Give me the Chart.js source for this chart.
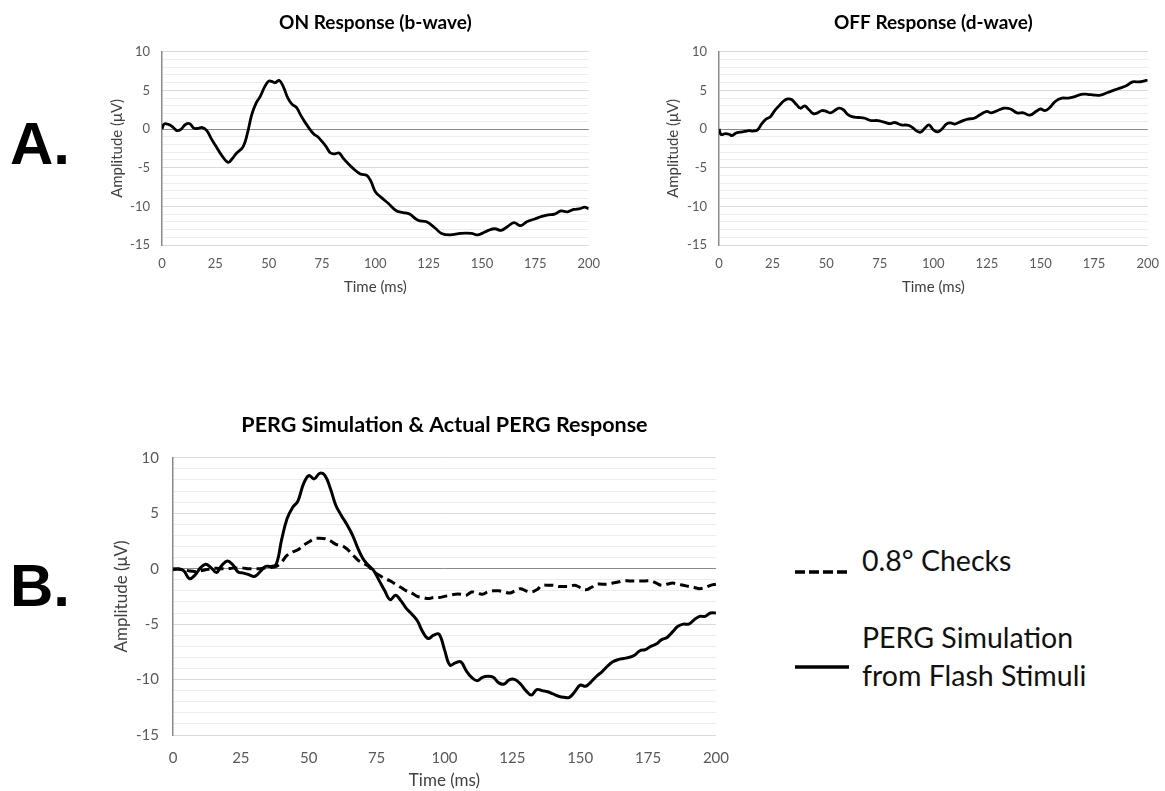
<!DOCTYPE html>
<html>
<head>
<meta charset="utf-8">
<script src="https://cdn.jsdelivr.net/npm/chart.js@4.4.1/dist/chart.umd.min.js"></script>
<style>
  body { margin: 0; background: #fff; width: 1165px; height: 791px; position: relative; overflow: hidden; font-family: Lato, sans-serif; }
  canvas { position: absolute; }
  .panel { position: absolute; left: 10px; font-family: "Liberation Sans", Arial, sans-serif; font-weight: bold; font-size: 60px; line-height: 60px; color: #000; }
  .legend-text { position: absolute; left: 862px; font-size: 28.5px; line-height: 38px; color: #111; white-space: nowrap; }
  .legend-mark { position: absolute; left: 795px; }
</style>
</head>
<body>

<div class="panel" style="top:114px">A.</div>
<div class="panel" style="top:556px">B.</div>

<canvas id="onChart" width="503" height="300" style="left:100px;top:0px"></canvas>
<canvas id="offChart" width="507" height="300" style="left:655px;top:0px"></canvas>
<canvas id="pergChart" width="635" height="391" style="left:100px;top:400px"></canvas>

<!-- legend for panel B -->
<svg class="legend-mark" style="top:566px" width="56" height="12"><line x1="0" y1="6" x2="54" y2="6" stroke="#000" stroke-width="3.5" stroke-dasharray="10,4"/></svg>
<div class="legend-text" style="top:541px">0.8° Checks</div>
<svg class="legend-mark" style="top:661px" width="56" height="12"><line x1="0" y1="6" x2="54" y2="6" stroke="#000" stroke-width="3.5"/></svg>
<div class="legend-text" style="top:618px">PERG Simulation<br>from Flash Stimuli</div>

<script>
// ---- data ----
const timeTicks = [0, 25, 50, 75, 100, 125, 150, 175, 200];
const amplitudeTicks = [-15, -10, -5, 0, 5, 10];

// ON response (b-wave)
const onTime = [0,1,3,5,7,9,11,13,15,17,19,21,23,25,28,31,33,35,38,40,42,44,46,48,50,52,53,55,57,59,61,63,65,67,69,71,73,75,77,79,81,83,85,87,90,93,96,98,100,103,106,110,113,116,120,124,128,131,135,140,145,148,150,153,156,159,162,165,168,171,175,178,181,184,187,190,193,196,198,200];
const onAmp = [0,0.65,0.6,0.3,-0.2,0,0.6,0.7,0.1,0.1,0.2,-0.2,-1.2,-2.1,-3.4,-4.3,-3.8,-3.1,-2.3,-0.6,1.8,3.3,4.2,5.4,6.2,6.1,6.0,6.3,5.4,4.0,3.2,2.8,1.8,0.9,0.1,-0.6,-1.0,-1.6,-2.3,-3.1,-3.2,-3.1,-3.8,-4.4,-5.2,-5.8,-6.0,-6.8,-8.1,-8.9,-9.6,-10.6,-10.8,-11.0,-11.8,-12.0,-12.8,-13.5,-13.7,-13.5,-13.5,-13.7,-13.5,-13.1,-12.9,-13.1,-12.6,-12.1,-12.5,-12.0,-11.6,-11.3,-11.1,-11.0,-10.6,-10.7,-10.4,-10.3,-10.1,-10.3];

// OFF response (d-wave)
const offTime = [0,1,3,5,6,8,10,12,14,16,18,20,22,24,26,28,30,32,34,36,38,40,42,44,46,48,50,52,54,56,58,60,62,65,68,71,74,77,80,82,85,88,90,92,94,96,98,100,102,104,106,108,110,113,116,119,122,125,127,130,133,136,139,142,145,148,150,152,154,157,160,163,166,169,172,175,178,181,184,187,190,193,196,198,200];
const offAmp = [0,-0.7,-0.6,-0.7,-0.85,-0.5,-0.4,-0.3,-0.2,-0.25,-0.1,0.7,1.3,1.6,2.4,3.0,3.6,3.9,3.8,3.2,2.7,3.0,2.5,2.0,2.1,2.4,2.3,2.1,2.4,2.7,2.5,1.9,1.6,1.5,1.4,1.1,1.1,0.9,0.7,0.85,0.55,0.5,0.25,-0.2,-0.4,0.1,0.55,-0.1,-0.35,0,0.65,0.8,0.65,1.0,1.3,1.4,1.9,2.3,2.1,2.4,2.7,2.6,2.1,2.1,1.8,2.3,2.6,2.4,2.7,3.6,4.0,4.0,4.2,4.5,4.5,4.4,4.4,4.7,5.0,5.3,5.6,6.1,6.1,6.2,6.35];

// PERG panel, sampled every 2 ms
const pergTime = [0,2,4,6,8,10,12,14,16,18,20,22,24,26,28,30,32,34,36,38,40,42,44,46,48,50,52,54,56,58,60,62,64,66,68,70,72,74,76,78,80,82,84,86,88,90,92,94,96,98,100,102,104,106,108,110,112,114,116,118,120,122,124,126,128,130,132,134,136,138,140,142,144,146,148,150,152,154,156,158,160,162,164,166,168,170,172,174,176,178,180,182,184,186,188,190,192,194,196,198,200];
const checksAmp = [0,-0.05,-0.1,-0.2,-0.25,-0.2,-0.1,0,0.05,0,0,0.05,0.05,0.05,0,0,0,0.05,0.1,0.2,
  0.6,1.2,1.5,1.7,2.1,2.4,2.7,2.75,2.7,2.5,2.2,2.1,1.8,1.3,0.8,0.5,0.2,-0.3,-0.6,-0.9,-1.1,-1.4,-1.7,-2.0,-2.2,-2.5,-2.6,-2.7,-2.6,-2.6,-2.5,
  -2.4,-2.3,-2.3,-2.4,-2.1,-2.2,-2.3,-2.1,-2.0,-2.0,-2.1,-2.2,-2.0,-1.8,-2.0,-2.1,-1.9,-1.5,-1.5,-1.5,-1.6,-1.6,-1.6,-1.5,-1.7,-1.9,-1.7,-1.4,-1.4,-1.4,-1.3,-1.2,-1.1,-1.1,-1.1,-1.1,-1.1,-1.1,-1.3,-1.5,-1.4,-1.3,-1.4,-1.5,-1.6,-1.7,-1.8,-1.7,-1.5,-1.4];
const flashSimAmp = [-0.1,0,-0.2,-0.9,-0.6,0.05,0.4,0.1,-0.35,0.3,0.7,0.35,-0.3,-0.4,-0.55,-0.7,-0.3,0.2,0.2,0.4,2.6,
  4.5,5.5,6.1,7.6,8.4,8.1,8.6,8.4,7.2,5.7,4.8,4.0,3.1,1.9,0.9,0.3,-0.2,-1.1,-2.0,-2.8,-2.4,-2.9,-3.6,-4.1,-4.7,-5.7,-6.3,-6.0,-5.9,-7.3,-8.7,-8.5,
  -8.4,-9.2,-9.8,-10.1,-9.8,-9.7,-9.8,-10.3,-10.4,-10.0,-10.0,-10.4,-11.0,-11.4,-10.9,-11.0,-11.1,-11.3,-11.5,-11.6,-11.6,-11.1,-10.5,-10.6,-10.2,-9.7,-9.3,-8.8,-8.4,-8.2,-8.1,-8.0,-7.8,-7.4,-7.3,-7.0,-6.8,-6.4,-6.2,-5.7,-5.2,-5.0,-5.0,-4.6,-4.3,-4.3,-4.0,-4.0];

function toPoints(xs, ys) {
  return xs.map((x, i) => ({ x: x, y: ys[i] }));
}

// light minor lines every 1 uV, a bit darker every 5, dark zero line
function gridColor(c) {
  const v = c.tick.value;
  if (v === 0) return '#8a8a8a';
  if (v % 5 === 0) return '#d9d9d9';
  return '#ededed';
}

function buildChart(id, cfg) {
  return new Chart(document.getElementById(id), {
    type: 'line',
    data: { datasets: cfg.datasets },
    options: {
      responsive: false,
      animation: false,
      layout: { padding: 0 },
      elements: { point: { radius: 0 }, line: { tension: 0.4 } },
      plugins: {
        legend: { display: false },
        tooltip: { enabled: false },
        title: {
          display: true,
          fullSize: false, // centre over the plot area
          text: cfg.title,
          color: '#000',
          font: { family: 'Lato', size: cfg.titleSize, weight: 'bold' },
          padding: cfg.titlePad
        }
      },
      scales: {
        x: {
          type: 'linear',
          min: timeTicks[0],
          max: timeTicks[timeTicks.length - 1],
          afterBuildTicks: (s) => { s.ticks = timeTicks.map(v => ({ value: v })); },
          grid: { display: false },
          border: { display: false },
          ticks: { color: '#595959', font: { family: 'Lato', size: cfg.tickSize }, padding: cfg.xTickPad, maxRotation: 0 },
          title: { display: true, text: 'Time (ms)', color: '#404040', font: { family: 'Lato', size: cfg.axisTitleSize }, padding: { top: 0, bottom: cfg.xTitlePad } },
          afterFit: (s) => { s.height = cfg.xHeight; }
        },
        y: {
          min: amplitudeTicks[0],
          max: amplitudeTicks[amplitudeTicks.length - 1],
          grid: { color: gridColor, lineWidth: 1, drawTicks: false },
          border: { color: '#8a8a8a', width: 1.5 },
          ticks: {
            stepSize: 1,
            autoSkip: false,
            padding: cfg.yTickPad,
            color: '#595959',
            font: { family: 'Lato', size: cfg.tickSize },
            callback: (v) => amplitudeTicks.includes(v) ? String(v) : ''
          },
          title: { display: true, text: 'Amplitude (μV)', color: '#404040', font: { family: 'Lato', size: cfg.axisTitleSize }, padding: { top: cfg.yTitlePad, bottom: 0 } },
          afterFit: (s) => { s.width = cfg.yWidth; }
        }
      }
    }
  });
}

buildChart('onChart', {
  title: 'ON Response (b-wave)',
  titleSize: 19, tickSize: 13, axisTitleSize: 15,
  titlePad: { top: 11, bottom: 18 },
  yWidth: 62, xHeight: 55, xTickPad: 3, yTickPad: 12, xTitlePad: 4, yTitlePad: 8,
  datasets: [{ data: toPoints(onTime, onAmp), borderColor: '#000', borderWidth: 2.8 }]
});

buildChart('offChart', {
  title: 'OFF Response (d-wave)',
  titleSize: 19, tickSize: 13, axisTitleSize: 15,
  titlePad: { top: 11, bottom: 18 },
  yWidth: 64, xHeight: 55, xTickPad: 3, yTickPad: 12, xTitlePad: 4, yTitlePad: 9,
  datasets: [{ data: toPoints(offTime, offAmp), borderColor: '#000', borderWidth: 2.8 }]
});

buildChart('pergChart', {
  title: 'PERG Simulation & Actual PERG Response',
  titleSize: 21.5, tickSize: 15, axisTitleSize: 17,
  titlePad: { top: 12, bottom: 20 },
  yWidth: 73, xHeight: 56, xTickPad: 6, yTickPad: 14, xTitlePad: 0, yTitlePad: 11,
  datasets: [
    { label: '0.8° Checks', data: toPoints(pergTime, checksAmp), borderColor: '#000', borderWidth: 3, borderDash: [9, 5] },
    { label: 'PERG Simulation from Flash Stimuli', data: toPoints(pergTime, flashSimAmp), borderColor: '#000', borderWidth: 3 }
  ]
});
</script>
</body>
</html>
